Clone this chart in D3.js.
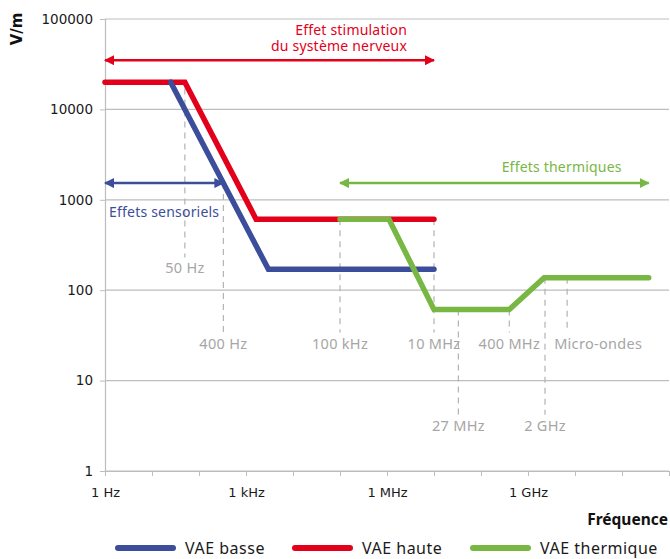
<!DOCTYPE html>
<html>
<head>
<meta charset="utf-8">
<script src="https://cdn.jsdelivr.net/npm/d3@7"></script>
<style>
  body { margin: 0; background: #fff; }
  svg { display: block; }
</style>
</head>
<body>
<svg width="670" height="559"></svg>
<script>
const width = 670, height = 559;

// frequency (Hz) , field (V/m)
const vaeBasse = [[25, 20000], [3000, 170], [1e7, 170]];
const vaeHaute = [[1, 20000], [50, 20000], [1640, 610], [1e7, 610]];
const vaeThermique = [[1e5, 610], [1.1e6, 610], [1e7, 61], [4e8, 61], [2.2e9, 137], [3.7e11, 137]];

const yTicks = [1, 10, 100, 1000, 10000, 100000];
const xTicks = [1, 1e1, 1e2, 1e3, 1e4, 1e5, 1e6, 1e7, 1e8, 1e9, 1e10, 1e11, 1e12];
const xTickLabels = {1: "1 Hz", 1000: "1 kHz", 1000000: "1 MHz", 1000000000: "1 GHz"};

// dashed reference lines: label, frequency, from / to (V/m)
const markers = [
    {label: "50 Hz", f: 50, from: 17000, to: 230},
    {label: "400 Hz", f: 330, from: 1530, to: 34},
    {label: "100 kHz", f: 1e5, from: 610, to: 34},
    {label: "10 MHz", f: 1e7, from: 610, to: 34},
    {label: "27 MHz", f: 3.3e7, from: 61, to: 4.2},
    {label: "400 MHz", f: 4e8, from: 61, to: 34},
    {label: "2 GHz", f: 2.3e9, from: 137, to: 4.2},
    {label: "Micro-ondes", f: 6.8e9, from: 137, to: 34}
];

// effect ranges (arrows)
const effects = [
    {lines: ["Effet stimulation", "du système nerveux"], from: 1, to: 1e7, level: 35000, color: "#e3001b"},
    {lines: ["Effets sensoriels"], from: 1, to: 330, level: 1530, color: "#3c4e9b"},
    {lines: ["Effets thermiques"], from: 1e5, to: 3.7e11, level: 1530, color: "#78b743"}
];

const series = [
    {name: "VAE haute", data: vaeHaute, color: "#e3001b"},
    {name: "VAE basse", data: vaeBasse, color: "#3c4e9b"},
    {name: "VAE thermique", data: vaeThermique, color: "#78b743"}
];
const legendOrder = ["VAE basse", "VAE haute", "VAE thermique"];

const plotLeft = 105, plotRight = 669, plotTop = 19, plotBottom = 471;

const svg = d3.select("svg");

const x = d3.scaleLog().domain([1, 1e12]).range([plotLeft, plotRight]);
const y = d3.scaleLog().domain([1, 100000]).range([plotBottom, plotTop]);

// gridlines
svg.append("g")
    .selectAll("line")
    .data(yTicks)
    .join("line")
    .attr("x1", plotLeft)
    .attr("x2", plotRight)
    .attr("y1", d => y(d))
    .attr("y2", d => y(d))
    .attr("stroke", "#bdbdbd")
    .attr("stroke-width", 1.2);

// y axis
const yAxis = svg.append("g")
    .attr("transform", `translate(${plotLeft},0)`)
    .call(d3.axisLeft(y).tickValues(yTicks).tickFormat(d3.format("d")).tickSize(5).tickPadding(7));
yAxis.select(".domain").attr("stroke", "#bdbdbd").attr("stroke-width", 1.2);
yAxis.selectAll(".tick line").attr("stroke", "#bdbdbd");
yAxis.selectAll("text")
    .attr("font-family", "DejaVu Sans")
    .attr("font-size", "13.5px")
    .attr("fill", "#1a1a1a");

// x axis
const xAxis = svg.append("g")
    .attr("transform", `translate(0,${plotBottom})`)
    .call(d3.axisBottom(x).tickValues(xTicks).tickFormat(d => xTickLabels[d] || "").tickSize(5).tickPadding(12).tickSizeOuter(0));
xAxis.select(".domain").attr("stroke", "#bdbdbd").attr("stroke-width", 1.2);
xAxis.selectAll(".tick line").attr("stroke", "#bdbdbd");
xAxis.selectAll("text")
    .attr("font-family", "DejaVu Sans")
    .attr("font-size", "13px")
    .attr("fill", "#1a1a1a");

svg.append("text")
    .attr("transform", "translate(22,29) rotate(-90)")
    .attr("text-anchor", "middle")
    .attr("font-family", "DejaVu Sans")
    .attr("font-weight", "bold")
    .attr("font-size", "15px")
    .attr("fill", "#111")
    .text("V/m");

svg.append("text")
    .attr("x", 668)
    .attr("y", 525)
    .attr("text-anchor", "end")
    .attr("font-family", "Noto Sans")
    .attr("font-weight", "bold")
    .attr("font-size", "15.5px")
    .attr("fill", "#111")
    .text("Fréquence");

// dashed markers
const markerGroup = svg.append("g");
markerGroup.selectAll("line")
    .data(markers)
    .join("line")
    .attr("x1", d => x(d.f))
    .attr("x2", d => x(d.f))
    .attr("y1", d => y(d.from))
    .attr("y2", d => y(d.to))
    .attr("stroke", "#b3b3b3")
    .attr("stroke-width", 1.2)
    .attr("stroke-dasharray", "6,5");
markerGroup.selectAll("text")
    .data(markers)
    .join("text")
    .attr("x", d => d.label === "Micro-ondes" ? x(d.f) - 13 : x(d.f))
    .attr("y", d => y(d.to) + 16)
    .attr("text-anchor", d => d.label === "Micro-ondes" ? "start" : "middle")
    .attr("font-family", "Noto Sans")
    .attr("font-size", "14.5px")
    .attr("letter-spacing", "0.3px")
    .attr("fill", "#a6a6a6")
    .text(d => d.label);

// arrows
const defs = svg.append("defs");
effects.forEach((e, i) => {
    ["start", "end"].forEach(side => {
        defs.append("marker")
            .attr("id", `arrow-${i}-${side}`)
            .attr("viewBox", "0 0 10 10")
            .attr("refX", side === "end" ? 9 : 1)
            .attr("refY", 5)
            .attr("markerWidth", 4)
            .attr("markerHeight", 4)
            .attr("markerUnits", "strokeWidth")
            .attr("orient", "auto")
            .append("path")
            .attr("d", side === "end" ? "M0,0 L10,5 L0,10 Z" : "M10,0 L0,5 L10,10 Z")
            .attr("fill", e.color);
    });
});

svg.append("g")
    .selectAll("line")
    .data(effects)
    .join("line")
    .attr("x1", d => x(d.from))
    .attr("x2", d => x(d.to))
    .attr("y1", d => y(d.level))
    .attr("y2", d => y(d.level))
    .attr("stroke", d => d.color)
    .attr("stroke-width", 2.5)
    .attr("marker-start", (d, i) => `url(#arrow-${i}-start)`)
    .attr("marker-end", (d, i) => `url(#arrow-${i}-end)`);

// effect labels
const red = effects[0], blue = effects[1], green = effects[2];
red.lines.forEach((t, i) => {
    svg.append("text")
        .attr("x", x(red.to) - 27)
        .attr("y", y(red.level) - 25 + i * 16)
        .attr("text-anchor", "end")
        .attr("font-family", "Noto Sans")
        .attr("font-size", "14px")
        .attr("letter-spacing", "0.2px")
        .attr("fill", red.color)
        .text(t);
});
svg.append("text")
    .attr("x", (x(blue.from) + x(blue.to)) / 2)
    .attr("y", y(blue.level) + 34)
    .attr("text-anchor", "middle")
    .attr("font-family", "Noto Sans")
    .attr("font-size", "14px")
    .attr("letter-spacing", "0.2px")
    .attr("fill", blue.color)
    .text(blue.lines[0]);
svg.append("text")
    .attr("x", x(green.to) - 27)
    .attr("y", y(green.level) - 11)
    .attr("text-anchor", "end")
    .attr("font-family", "Noto Sans")
    .attr("font-size", "14px")
    .attr("letter-spacing", "0.2px")
    .attr("fill", green.color)
    .text(green.lines[0]);

// series lines
const line = d3.line()
    .x(d => x(d[0]))
    .y(d => y(d[1]));

svg.append("g")
    .selectAll("path")
    .data(series)
    .join("path")
    .attr("d", d => line(d.data))
    .attr("fill", "none")
    .attr("stroke", d => d.color)
    .attr("stroke-width", 5.5)
    .attr("stroke-linecap", "round")
    .attr("stroke-linejoin", "miter");

// legend
const legendX = [118, 295, 473];
const legend = svg.append("g")
    .selectAll("g")
    .data(legendOrder.map(n => series.find(s => s.name === n)))
    .join("g")
    .attr("transform", (d, i) => `translate(${legendX[i]},548)`);
legend.append("line")
    .attr("x1", 0)
    .attr("x2", 55)
    .attr("stroke", d => d.color)
    .attr("stroke-width", 6)
    .attr("stroke-linecap", "round");
legend.append("text")
    .attr("x", 67)
    .attr("y", 6)
    .attr("font-family", "Noto Sans")
    .attr("font-size", "16px")
    .attr("letter-spacing", "0.5px")
    .attr("fill", "#1a1a1a")
    .text(d => d.name);
</script>
</body>
</html>
